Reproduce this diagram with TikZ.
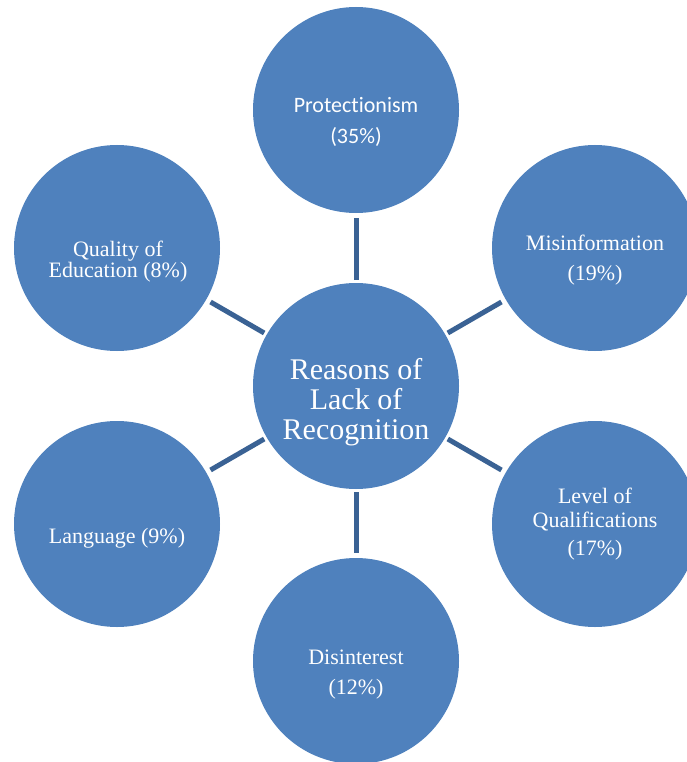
\documentclass[tikz,border=0pt]{standalone}
\usepackage{fontspec}
\setmainfont{Liberation Serif}
\newfontfamily\calfont[Ligatures=NoCommon]{Carlito}
\definecolor{bubble}{RGB}{79,129,189}
\definecolor{linkc}{RGB}{58,98,148}
\tikzset{
  bub/.style={circle, fill=bubble, minimum size=206pt, inner sep=0pt, outer sep=0pt},
  lbl/.style={anchor=base, text=white, inner sep=0pt, font=\fontsize{22}{22}\selectfont},
  lblsans/.style={anchor=base, text=white, inner sep=0pt, font=\calfont\fontsize{22}{22}\selectfont},
  lblbig/.style={anchor=base, text=white, inner sep=0pt, font=\fontsize{30}{30}\selectfont},
  link/.style={draw=linkc, line width=5pt, shorten <=3pt, shorten >=5pt}
}
\begin{document}
\begin{tikzpicture}[x=1pt,y=-1pt]
\useasboundingbox (0,0) rectangle (686,762);
% circles
\node[bub] (C)  at (356,386) {};
\node[bub] (T)  at (356,110) {};
\node[bub] (TR) at (595,248) {};
\node[bub] (BR) at (595,524) {};
\node[bub] (B)  at (356,661) {};
\node[bub] (BL) at (117,524) {};
\node[bub] (TL) at (117,248) {};
% connectors
\draw[link] (C) -- (T);
\draw[link] (C) -- (TR);
\draw[link] (C) -- (BR);
\draw[link] (C) -- (B);
\draw[link] (C) -- (BL);
\draw[link] (C) -- (TL);
% texts
\node[lblbig] (c1) at (356,379) {Reasons of};
\node[lblbig] (c2) at (356,409) {Lack of};
\node[lblbig] (c3) at (356,439) {Recognition};
\node[lblsans] (t1) at (356,112.5) {Protectionism};
\node[lblsans] (t2) at (356,144) {(35\%)};
\node[lbl] (tr1) at (595,250) {Misinformation};
\node[lbl] (tr2) at (595,280) {(19\%)};
\node[lbl] (br1) at (595,503) {Level of};
\node[lbl] (br2) at (595,527) {Qualifications};
\node[lbl] (br3) at (595,555) {(17\%)};
\node[lbl] (b1) at (356,664) {Disinterest};
\node[lbl] (b2) at (356,694) {(12\%)};
\node[lbl] (bl1) at (117,543) {Language (9\%)};
\node[lbl] (tl1) at (118,256.5) {Quality of};
\node[lbl] (tl2) at (118,277) {Education (8\%)};
\end{tikzpicture}
\end{document}
